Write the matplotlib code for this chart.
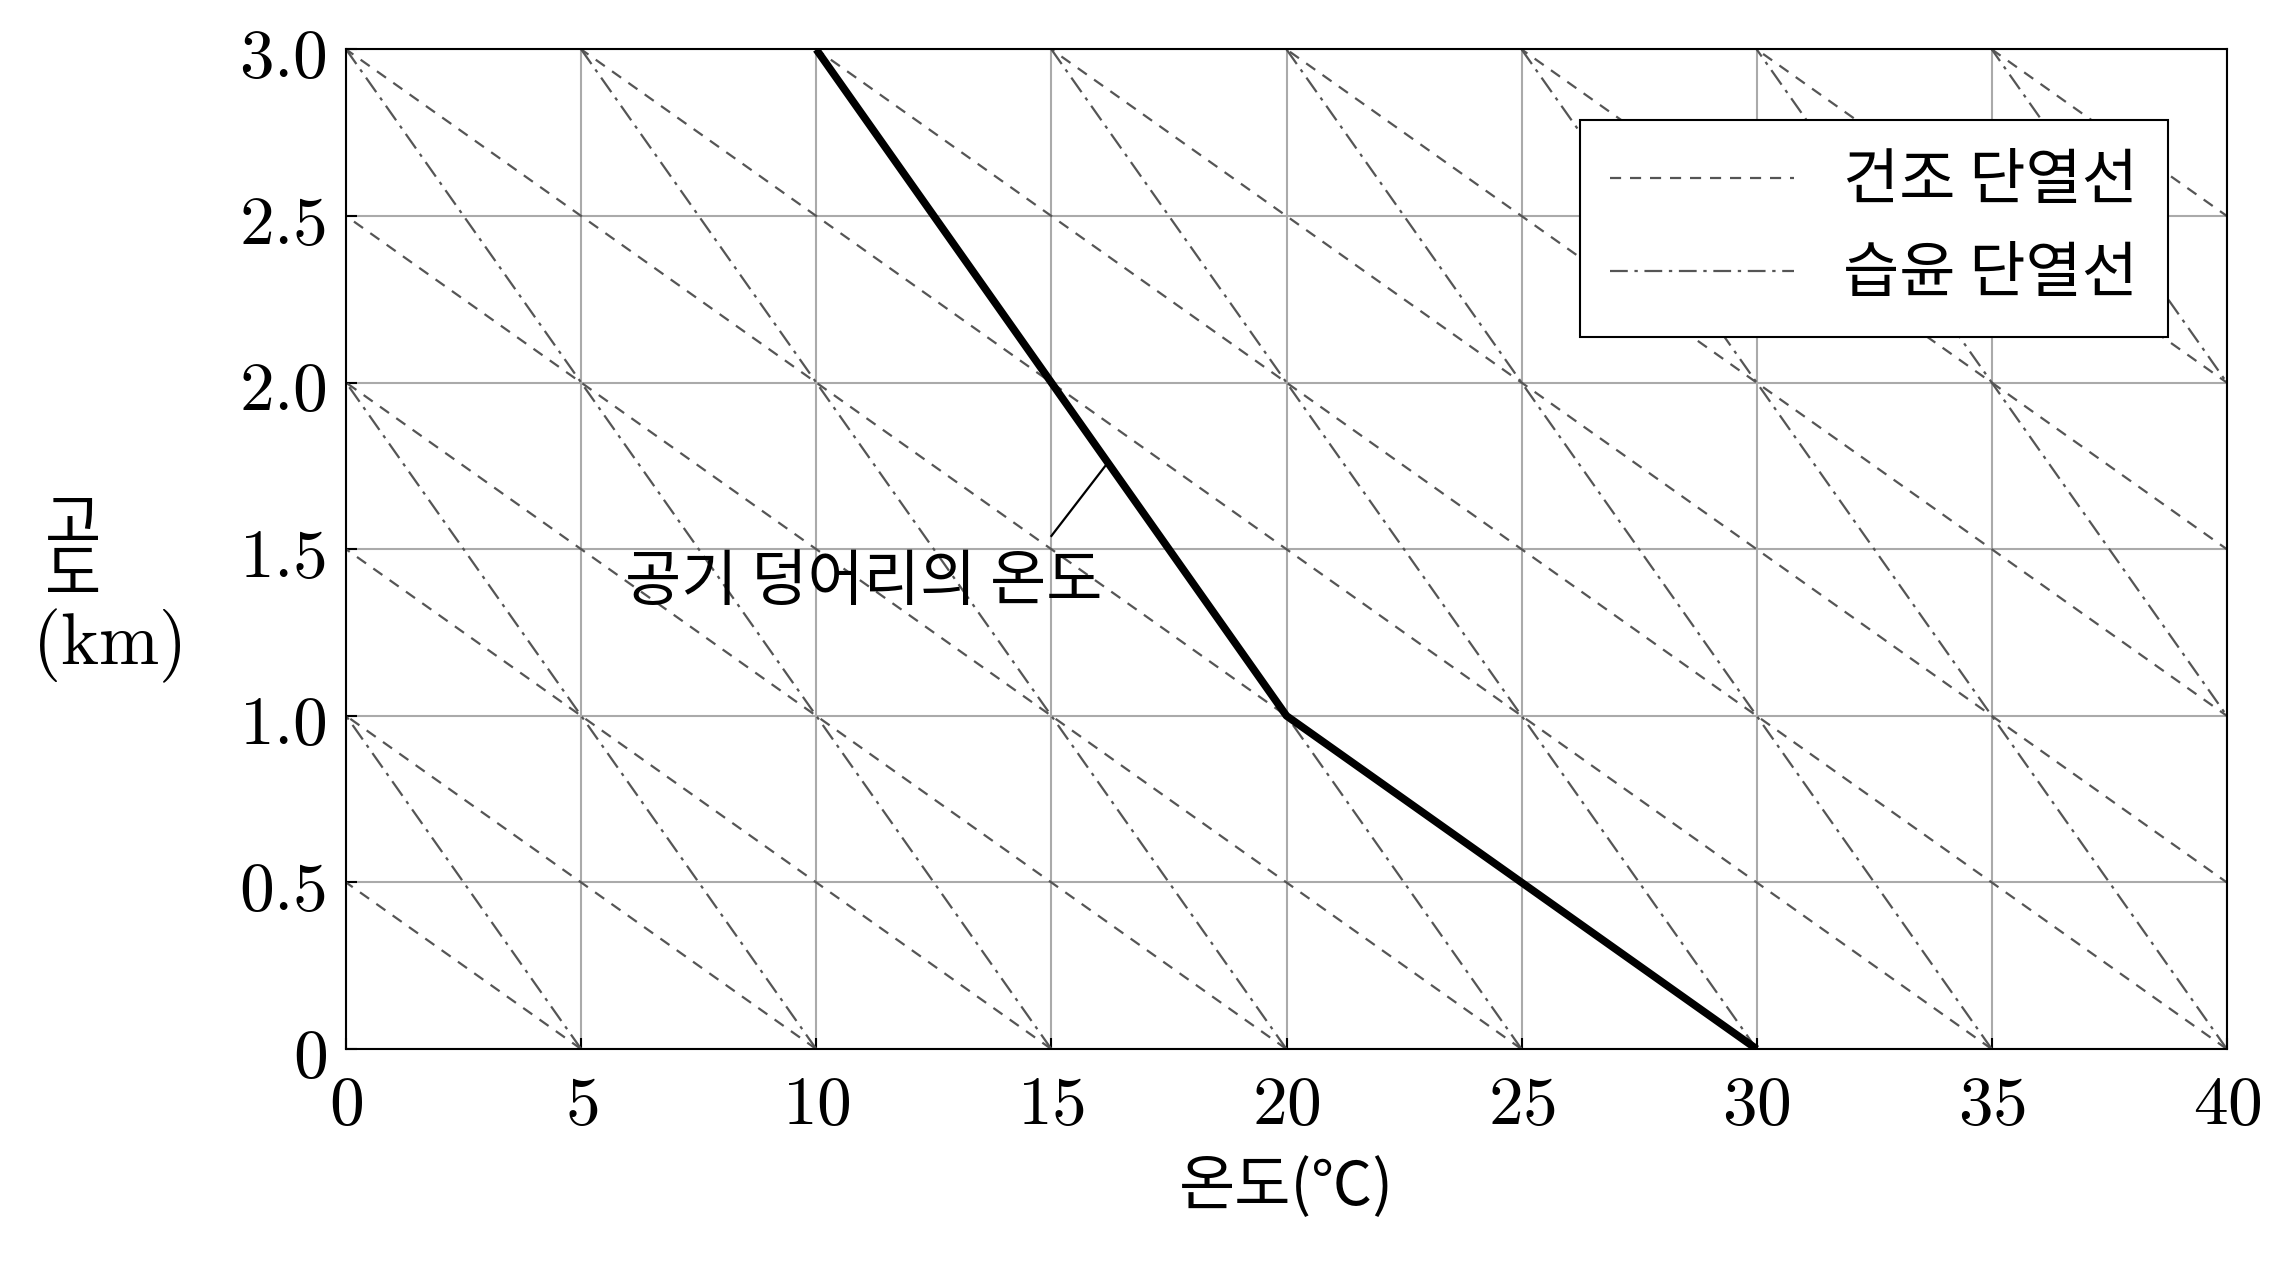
import matplotlib
matplotlib.use("Agg")
import matplotlib.pyplot as plt
import numpy as np

plt.rcParams['font.family'] = ['Noto Sans CJK KR', 'DejaVu Sans']
plt.rcParams['mathtext.fontset'] = 'cm'

x_ticks = [0, 5, 10, 15, 20, 25, 30, 35, 40]
y_ticks = [0, 0.5, 1.0, 1.5, 2.0, 2.5, 3.0]
y_tick_labels = ['0', '0.5', '1.0', '1.5', '2.0', '2.5', '3.0']
dry_rate = 10.0   # °C per km
moist_rate = 5.0  # °C per km
dry_offsets = list(range(0, 75, 5))
moist_offsets = list(range(0, 60, 5))
parcel_T = [30, 20, 10]
parcel_h = [0, 1.0, 3.0]

fig = plt.figure(figsize=(22.77, 12.67), dpi=100)
ax = fig.add_axes([0.152, 0.172, 0.826, 0.789])
h = np.array([0, 3.0])
for i, c in enumerate(dry_offsets):
    ax.plot(c - dry_rate * h, h, ls=(0, (5, 4)), color='#555555', lw=1.6,
            label='건조 단열선' if i == 0 else None)
for i, c in enumerate(moist_offsets):
    ax.plot(c - moist_rate * h, h, ls=(0, (8, 3, 1.5, 3)), color='#555555', lw=1.6,
            label='습윤 단열선' if i == 0 else None)
ax.plot(parcel_T, parcel_h, color='black', lw=5.5, solid_capstyle='butt', zorder=5)

ax.set_xlim(0, 40)
ax.set_ylim(0, 3.0)
ax.set_xticks(x_ticks)
ax.set_xticklabels([f'${v}$' for v in x_ticks], fontsize=50)
ax.set_yticks(y_ticks)
ax.set_yticklabels([f'${v}$' for v in y_tick_labels], fontsize=50)
ax.grid(True, color='#aaaaaa', lw=1.5)
ax.tick_params(direction='in', length=8, width=1.5, pad=14)
for s in ax.spines.values():
    s.set_linewidth(1.5)

ax.set_xlabel('온도(℃)', fontsize=44, labelpad=12)
fig.text(0.032, 0.585, '고', fontsize=44, ha='center', va='center')
fig.text(0.032, 0.545, '도', fontsize=44, ha='center', va='center')
fig.text(0.047, 0.49, '$(\\mathrm{km})$', fontsize=52, ha='center', va='center')

ax.text(11.0, 1.4, '공기 덩어리의 온도', fontsize=44, ha='center', va='center', zorder=6)
ax.plot([15.0, 16.2], [1.54, 1.76], color='black', lw=1.6, zorder=6)

leg = ax.legend(loc='upper right', fontsize=44, fancybox=False, edgecolor='black',
                framealpha=1, handlelength=3.0, borderpad=0.5, labelspacing=0.5,
                handletextpad=0.8, bbox_to_anchor=(0.985, 0.96))
leg.get_frame().set_linewidth(1.5)

fig.savefig('out.png', dpi=100)
